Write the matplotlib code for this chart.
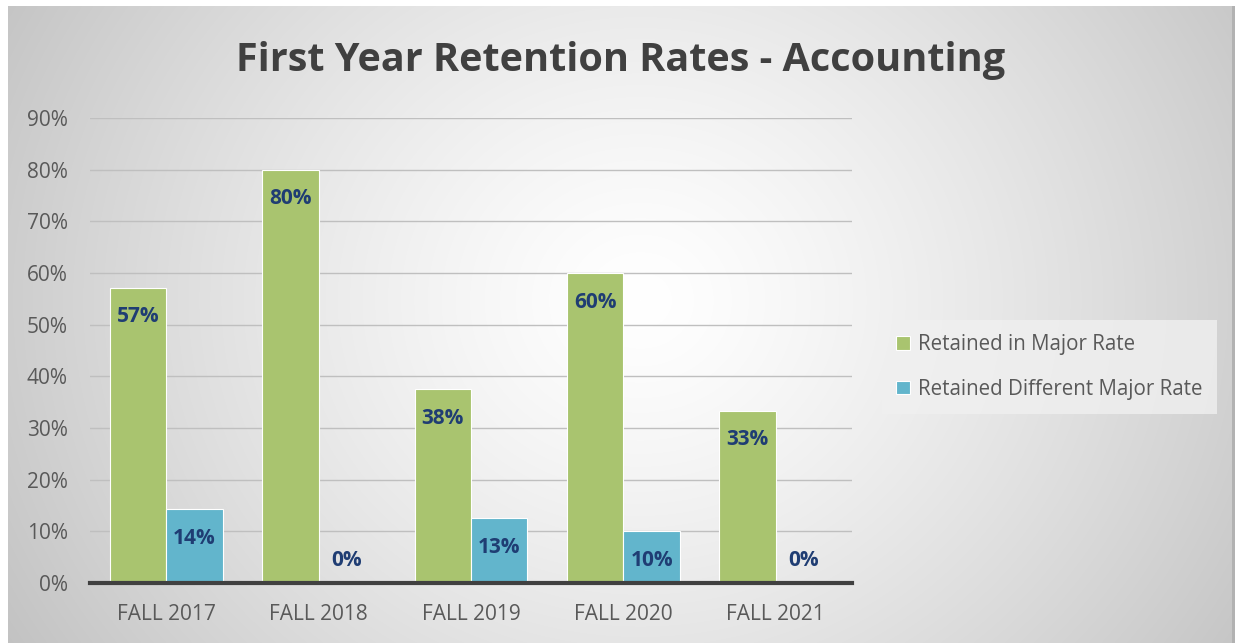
import numpy as np
import matplotlib.pyplot as plt

terms = ['FALL 2017', 'FALL 2018', 'FALL 2019', 'FALL 2020', 'FALL 2021']
in_major = [57.1, 80.0, 37.5, 60.0, 33.3]
diff_major = [14.3, 0.0, 12.5, 10.0, 0.0]

green = '#a9c46f'
blue = '#62b5cc'
label_col = '#1f3d73'
text_col = '#595959'

plt.rcParams['font.family'] = ['Open Sans', 'DejaVu Sans']

fig = plt.figure(figsize=(12.35, 6.43), dpi=100)

# background: radial gradient inside a white frame
bg = fig.add_axes([0, 0, 1, 1], zorder=-5)
W, H = 1235, 643
yy, xx = np.mgrid[0:H, 0:W]
cx, cy = 640, 300
r = np.sqrt((xx - cx) ** 2 + ((yy - cy) / 0.9) ** 2)
r = r / r.max()
g = 1 - 0.24 * np.clip(r, 0, 1) ** 1.3
img = np.dstack([g, g, g])
img[:6, :, :] = 1.0
img[:, :8, :] = 1.0
img[6:, 1232:, :] = 0.7
bg.imshow(img, extent=[0, W, H, 0], aspect='auto')
bg.set_xlim(0, W)
bg.set_ylim(H, 0)
bg.axis('off')

ax = fig.add_axes([90 / W, 1 - 583 / H, (852 - 90) / W, (583 - 118) / H])
ax.patch.set_alpha(0)

x = np.arange(len(terms))
w = 0.37
b1 = ax.bar(x - w / 2, in_major, w, color=green, edgecolor='white', linewidth=0.8,
            label='Retained in Major Rate', zorder=3)
b2 = ax.bar(x + w / 2, diff_major, w, color=blue, edgecolor='white', linewidth=0.8,
            label='Retained Different Major Rate', zorder=3)

for bars, vals in [(b1, in_major), (b2, diff_major)]:
    for rect, v in zip(bars, vals):
        off = -29 if v > 0 else 23
        ax.annotate('{}%'.format(int(np.floor(v + 0.5))),
                    (rect.get_x() + rect.get_width() / 2, v),
                    xytext=(0, off * 0.72), textcoords='offset points',
                    ha='center', va='center', fontsize=15, fontweight='bold',
                    color=label_col, zorder=4)

ax.set_ylim(0, 90)
ax.set_xlim(-0.5, len(terms) - 0.5)
ax.set_yticks(range(0, 91, 10))
ax.set_yticklabels(['{}%'.format(t) for t in range(0, 91, 10)])
ax.set_xticks(x)
ax.set_xticklabels(terms)
ax.tick_params(length=0, labelsize=15, colors=text_col)
ax.tick_params(axis='y', pad=16)
ax.tick_params(axis='x', pad=15)
ax.grid(axis='y', color='#bfbfbf', linewidth=1, zorder=0)
for s in ['top', 'right', 'left']:
    ax.spines[s].set_visible(False)
ax.spines['bottom'].set_color('#404040')
ax.spines['bottom'].set_linewidth(3)
ax.spines['bottom'].set_zorder(5)

fig.text(621 / W, 1 - 61 / H, 'First Year Retention Rates - Accounting',
         ha='center', va='center', fontsize=28.5, fontweight='bold', color='#404040')

leg = fig.legend(handles=[b1, b2], loc='center left', bbox_to_anchor=(882 / W, 1 - 367 / H),
                 frameon=True, fontsize=14.8, handlelength=0.65, handleheight=0.65,
                 handletextpad=0.4, labelspacing=1.15, borderpad=0.7, borderaxespad=0,
                 fancybox=False)
leg.get_frame().set_facecolor('#f0f0f0')
leg.get_frame().set_edgecolor('none')
leg.get_frame().set_alpha(0.8)
for t in leg.get_texts():
    t.set_color(text_col)

fig.savefig('out.png', dpi=100)
